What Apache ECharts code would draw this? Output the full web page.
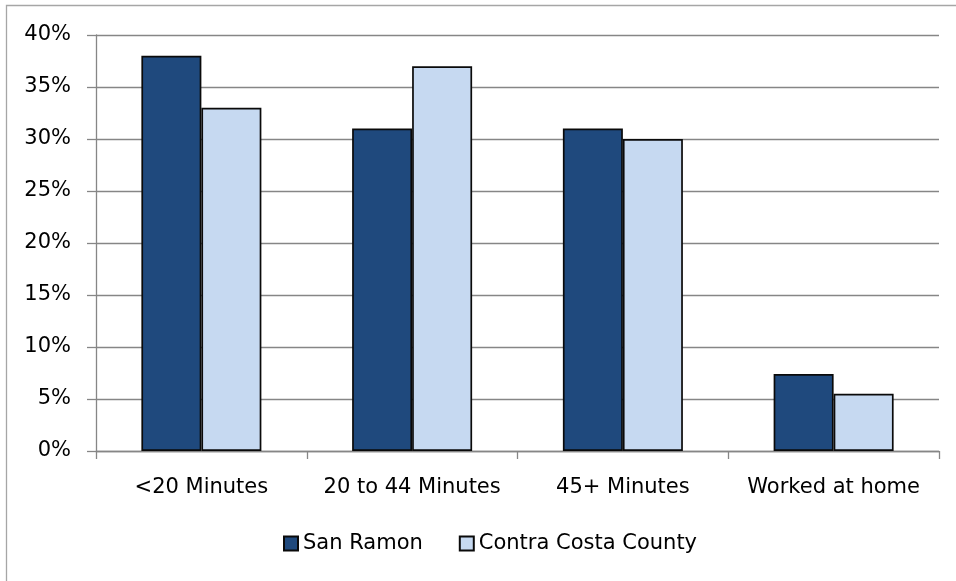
<!DOCTYPE html>
<html>
<head>
<meta charset="utf-8">
<script src="https://cdn.jsdelivr.net/npm/echarts@6/dist/echarts.min.js"></script>
<style>
  html, body { margin: 0; padding: 0; background: #fff; }
  #chart { width: 956px; height: 581px; }
</style>
</head>
<body>
<div id="chart"></div>
<script>
// Commute time: share of workers by travel time to work
const categories = ['<20 Minutes', '20 to 44 Minutes', '45+ Minutes', 'Worked at home'];
const sanRamon = [38, 31, 31, 7.4];
const contraCosta = [33, 37, 30, 5.5];
const seriesNames = ['San Ramon', 'Contra Costa County'];
const yTicks = { min: 0, max: 40, interval: 5 };

const FONT = 'DejaVu Sans';
const GRID_GRAY = '#868686';
const chart = echarts.init(document.getElementById('chart'), null, { renderer: 'canvas' });

const barStyle = (color) => ({
  color: color,
  borderColor: '#0a0a0a',
  borderWidth: 1.7
});

chart.setOption({
  animation: false,
  backgroundColor: '#fff',
  textStyle: { fontFamily: FONT },
  graphic: [{
    type: 'rect',
    shape: { x: 6.5, y: 5.5, width: 1200, height: 1200 },
    style: { fill: 'none', stroke: '#a6a6a6', lineWidth: 1.3 },
    silent: true
  }],
  grid: { left: 96, right: 17, top: 35, bottom: 130, containLabel: false },
  legend: {
    data: seriesNames,
    left: 278,
    top: 528,
    itemWidth: 14,
    itemHeight: 14,
    itemGap: 36,
    icon: 'rect',
    textStyle: { fontFamily: FONT, fontSize: 21, color: '#000' }
  },
  xAxis: {
    type: 'category',
    data: categories,
    axisLine: { show: true, lineStyle: { color: GRID_GRAY, width: 1.3 } },
    axisTick: { show: true, length: 8, lineStyle: { color: GRID_GRAY, width: 1.3 } },
    axisLabel: { fontFamily: FONT, fontSize: 21, color: '#000', margin: 26, interval: 0 },
    splitLine: { show: false }
  },
  yAxis: {
    type: 'value',
    min: yTicks.min,
    max: yTicks.max,
    interval: yTicks.interval,
    axisLine: { show: true, lineStyle: { color: GRID_GRAY, width: 1.3 } },
    axisTick: { show: true, length: 9, lineStyle: { color: GRID_GRAY, width: 1.3 } },
    axisLabel: { fontFamily: FONT, fontSize: 21, color: '#000', margin: 25, formatter: '{value}%' },
    splitLine: { show: true, lineStyle: { color: GRID_GRAY, width: 1.3 } }
  },
  series: [
    {
      name: seriesNames[0],
      type: 'bar',
      data: sanRamon,
      barWidth: 60,
      barGap: '0%',
      itemStyle: barStyle('#1f497d')
    },
    {
      name: seriesNames[1],
      type: 'bar',
      data: contraCosta,
      barWidth: 60,
      barGap: '0%',
      itemStyle: barStyle('#c6d9f1')
    }
  ]
});
</script>
</body>
</html>
